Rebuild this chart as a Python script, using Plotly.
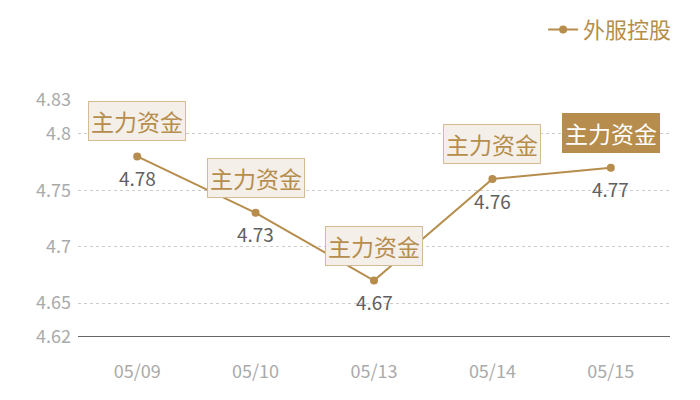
import plotly.graph_objects as go

dates = ["05/09", "05/10", "05/13", "05/14", "05/15"]
values = [4.78, 4.73, 4.67, 4.76, 4.77]
labels = ["4.78", "4.73", "4.67", "4.76", "4.77"]
tag_text = "主力资金"
series_name = "外服控股"
y_ticks = [4.62, 4.65, 4.7, 4.75, 4.8, 4.83]
y_tick_text = ["4.62", "4.65", "4.7", "4.75", "4.8", "4.83"]
highlight_index = 4

GOLD = "#b68d4c"
FONT = "Noto Sans CJK SC"

fig = go.Figure()
fig.add_trace(go.Scatter(
    x=dates, y=values, mode="lines+markers", name=series_name,
    line=dict(color=GOLD, width=2), marker=dict(color=GOLD, size=8),
    cliponaxis=False,
))

for i, (d, v) in enumerate(zip(dates, values)):
    hl = i == highlight_index
    fig.add_annotation(
        x=d, y=v, xref="x", yref="y", text=tag_text, showarrow=False,
        yshift=35, font=dict(size=23, color="#ffffff" if hl else GOLD, family=FONT),
        bgcolor=GOLD if hl else "#f4efe8",
        bordercolor=GOLD if hl else "#d4bb93", borderwidth=1, borderpad=2,
    )
    fig.add_annotation(
        x=d, y=v, xref="x", yref="y", text=labels[i], showarrow=False,
        yshift=-21, font=dict(size=19, color="#606060", family=FONT),
    )

fig.update_layout(
    width=692, height=392,
    margin=dict(l=70, r=30, t=92, b=63, autoexpand=False),
    plot_bgcolor="white", paper_bgcolor="white",
    font=dict(family=FONT),
    showlegend=True,
    legend=dict(x=1.012, y=1.385, xanchor="right", yanchor="top",
                font=dict(size=22, color=GOLD, family=FONT),
                bgcolor="rgba(0,0,0,0)", itemwidth=30),
    xaxis=dict(type="category", range=[-0.5, 4.5], showgrid=False,
               ticks="", tickfont=dict(size=18, color="#aaaaaa", family=FONT),
               showline=False, zeroline=False, ticklabelstandoff=22),
    yaxis=dict(range=[4.62, 4.83], tickvals=y_ticks, ticktext=y_tick_text,
               showgrid=True, gridcolor="#cccccc", griddash="dot", gridwidth=1,
               tickfont=dict(size=18, color="#aaaaaa", family=FONT),
               zeroline=False, showline=False, ticks="", ticklabelstandoff=6),
)
fig.add_shape(type="line", xref="paper", yref="y", x0=0, x1=1, y0=4.62, y1=4.62,
              line=dict(color="#333333", width=1.5))

fig.write_html("out.html")
